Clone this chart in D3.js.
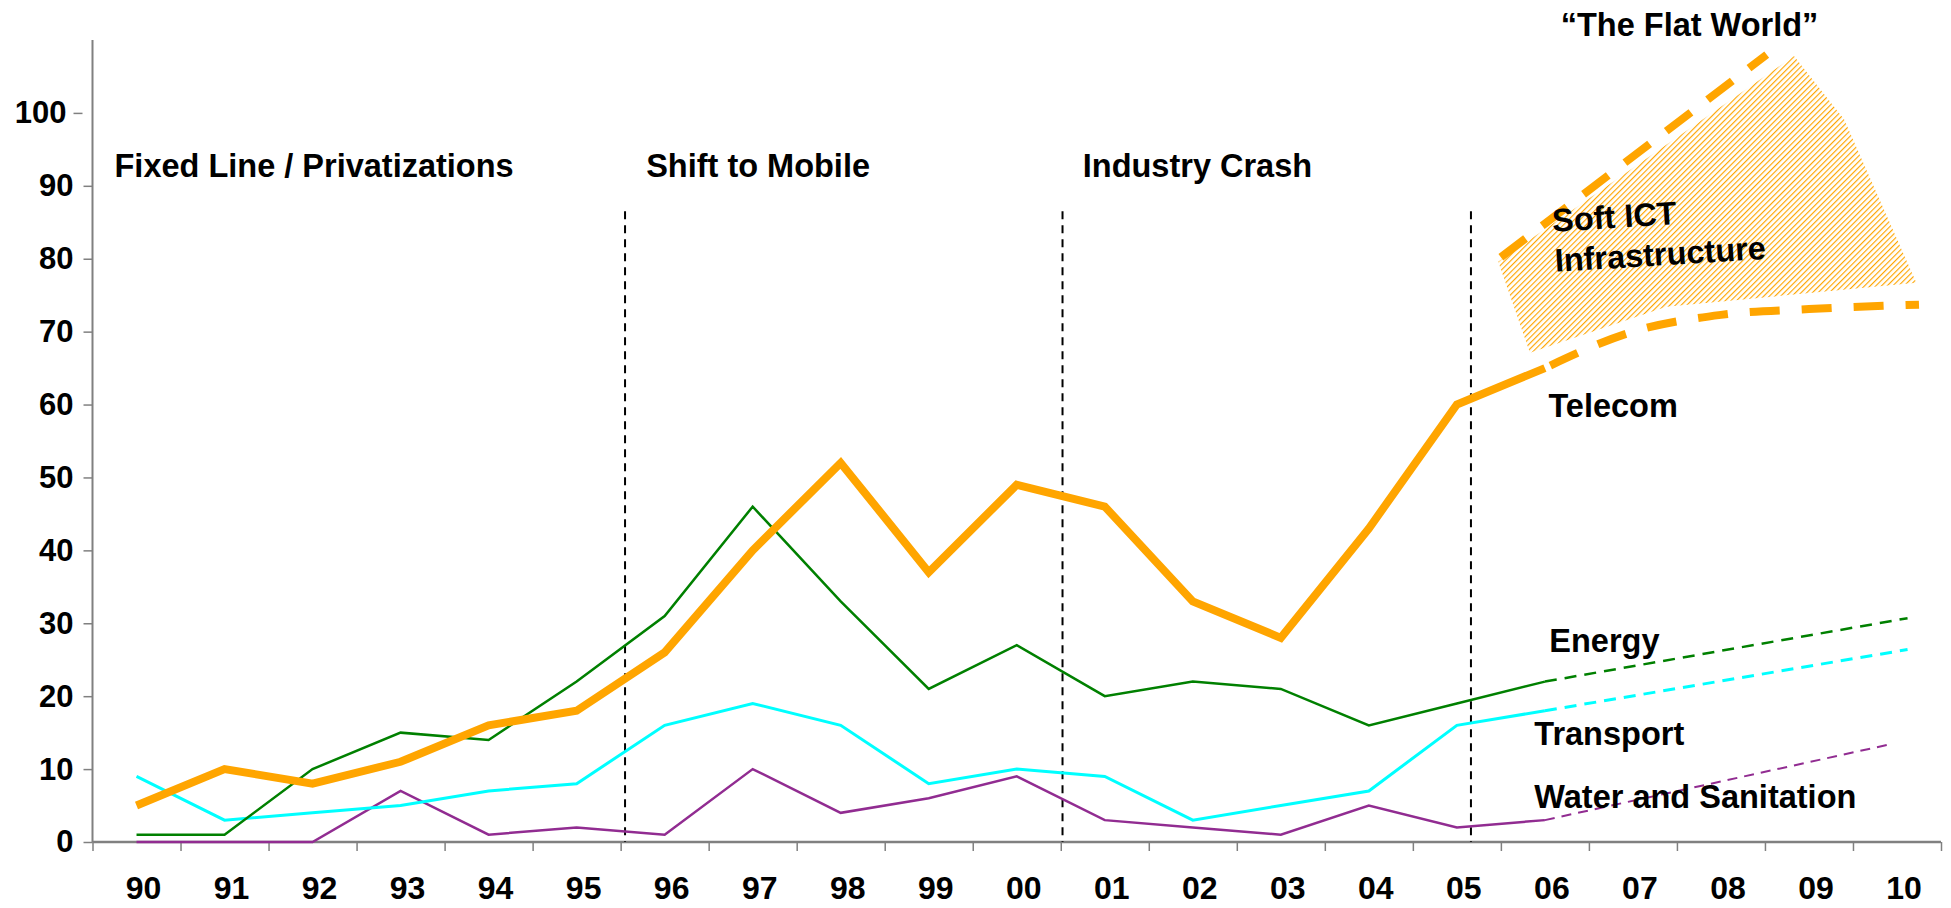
<!DOCTYPE html>
<html>
<head>
<meta charset="utf-8">
<script src="https://cdn.jsdelivr.net/npm/d3@7"></script>
<style>
  body { margin: 0; background: #fff; }
  svg text { font-family: "Liberation Sans", Arial, sans-serif; font-weight: bold; fill: #000; }
</style>
</head>
<body>
<svg id="chart" width="1951" height="908"></svg>
<script>
// categories (years, two digits) and series values
const categories = ["90","91","92","93","94","95","96","97","98","99","00","01","02","03","04","05","06","07","08","09","10"];
const yTicks = [0, 10, 20, 30, 40, 50, 60, 70, 80, 90, 100];

// actuals 1990..2006
const telecom   = [5, 10, 8, 11, 16, 18, 26, 40, 52, 37, 49, 46, 33, 28, 43, 60, 65];
const energy    = [1, 1, 10, 15, 14, 22, 31, 46, 33, 21, 27, 20, 22, 21, 16, 19, 22];
const transport = [9, 3, 4, 5, 7, 8, 16, 19, 16, 8, 10, 9, 3, 5, 7, 16, 18];
const water     = [0, 0, 0, 7, 1, 2, 1, 10, 4, 6, 9, 3, 2, 1, 5, 2, 3];

// projections [year, value]
const telecomForecast   = [[2006, 65], [2007, 70], [2008, 72.3], [2009, 73.1], [2010.25, 73.7]];
const flatWorld         = [[2005.5, 80.2], [2008.52, 108]];
const energyForecast    = [[2006, 22], [2010.12, 30.7]];
const transportForecast = [[2006, 18], [2010.12, 26.4]];
const waterForecast     = [[2006, 3], [2009.96, 13.5]];
// hatched "Soft ICT" area outline [year, value]
const softIctArea = [[2005.47, 79.6], [2008.83, 107.8], [2009.40, 99.1], [2010.22, 76.7], [2007.38, 73.4], [2005.83, 67.1]];

// period dividers and captions
const eras = [
  {name: "Fixed Line / Privatizations", labelYear: 1989.75, line: null},
  {name: "Shift to Mobile", labelYear: 1995.79, line: 1995.55},
  {name: "Industry Crash", labelYear: 2000.75, line: 2000.52},
  {name: null, labelYear: null, line: 2005.16}
];

const svg = d3.select("#chart");

const x = d3.scaleBand().domain(categories).range([92.5, 1941]).padding(0);
const bw = x.bandwidth();
const yr = d3.scaleLinear().domain([1990, 2010]).range([x("90") + bw / 2, x("10") + bw / 2]);
const y = d3.scaleLinear().domain([0, 110]).range([842, 40]);

// hatch pattern
const defs = svg.append("defs");
defs.append("pattern")
    .attr("id", "hatch")
    .attr("patternUnits", "userSpaceOnUse")
    .attr("width", 4).attr("height", 4)
    .attr("patternTransform", "rotate(45)")
  .append("line")
    .attr("x1", 0).attr("y1", 0).attr("x2", 0).attr("y2", 4)
    .attr("stroke", "#FFA500").attr("stroke-width", 2.3);

// hatched area
svg.append("path")
   .datum(softIctArea)
   .attr("d", d3.line().x(d => yr(d[0])).y(d => y(d[1])).curve(d3.curveLinearClosed))
   .attr("fill", "url(#hatch)");

// y axis
const yAxis = svg.append("g")
   .attr("transform", `translate(${x.range()[0]},0)`)
   .call(d3.axisLeft(y).tickValues(yTicks).tickSize(9).tickPadding(10).tickSizeOuter(0));
yAxis.select(".domain").attr("stroke", "#808080").attr("stroke-width", 2)
     .attr("d", `M0,${y(0)}V${y(110)}`);
yAxis.selectAll(".tick line").attr("stroke", "#808080").attr("stroke-width", 1.5);
yAxis.selectAll(".tick text").style("font-size", "31px").attr("fill", "#000");
// the 100 label sits a bit off the axis in the original
yAxis.selectAll(".tick").filter(d => d === 100).each(function() {
  d3.select(this).select("line").attr("transform", "translate(-10,0)");
  d3.select(this).select("text").attr("dx", "-7");
});

// x axis: boundary ticks and centred labels
const xTicks = svg.append("g")
   .attr("transform", `translate(0,${y(0)})`)
   .call(d3.axisBottom(yr).tickValues(d3.range(1989.5, 2010.6, 1)).tickSize(9).tickFormat(""));
xTicks.select(".domain").attr("stroke", "#808080").attr("stroke-width", 2.5)
      .attr("d", `M${x.range()[0]},0H${x.range()[1]}`);
xTicks.selectAll(".tick line").attr("stroke", "#808080").attr("stroke-width", 1.5);

svg.append("g").selectAll("text")
   .data(categories)
   .join("text")
   .attr("x", d => x(d) + bw / 2 + 7)
   .attr("y", 899)
   .attr("text-anchor", "middle")
   .style("font-size", "32px")
   .text(d => d);

// era dividers
svg.append("g").selectAll("line")
   .data(eras.filter(e => e.line !== null))
   .join("line")
   .attr("x1", d => yr(d.line)).attr("x2", d => yr(d.line))
   .attr("y1", y(86.5)).attr("y2", y(0))
   .attr("stroke", "#000").attr("stroke-width", 2)
   .attr("stroke-dasharray", "8,6");

svg.append("g").selectAll("text")
   .data(eras.filter(e => e.name))
   .join("text")
   .attr("x", d => yr(d.labelYear))
   .attr("y", y(91.2))
   .style("font-size", "32.5px")
   .text(d => d.name);

// series
const line = d3.line().x((d, i) => yr(1990 + i)).y(d => y(d));
const lineXY = d3.line().x(d => yr(d[0])).y(d => y(d[1]));

const series = [
  {values: water, forecast: waterForecast, color: "#912C91", width: 2.5, fwidth: 2, dash: "10,7"},
  {values: transport, forecast: transportForecast, color: "#00FFFF", width: 3, fwidth: 3, dash: "12,8"},
  {values: energy, forecast: energyForecast, color: "#008000", width: 2.5, fwidth: 2.5, dash: "12,8"}
];

series.forEach(s => {
  svg.append("path").datum(s.values)
     .attr("d", line).attr("fill", "none")
     .attr("stroke", s.color).attr("stroke-width", s.width)
     .attr("stroke-linejoin", "miter");
  svg.append("path").datum(s.forecast)
     .attr("d", lineXY).attr("fill", "none")
     .attr("stroke", s.color).attr("stroke-width", s.fwidth)
     .attr("stroke-dasharray", s.dash);
});

// telecom (thick orange)
svg.append("path").datum(telecom)
   .attr("d", line).attr("fill", "none")
   .attr("stroke", "#FFA500").attr("stroke-width", 8)
   .attr("stroke-linejoin", "miter");
svg.append("path").datum(telecomForecast)
   .attr("d", lineXY.curve(d3.curveMonotoneX)).attr("fill", "none")
   .attr("stroke", "#FFA500").attr("stroke-width", 8)
   .attr("stroke-dasharray", "30,22").attr("stroke-dashoffset", -6);
svg.append("path").datum(flatWorld)
   .attr("d", d3.line().x(d => yr(d[0])).y(d => y(d[1]))).attr("fill", "none")
   .attr("stroke", "#FFA500").attr("stroke-width", 8)
   .attr("stroke-dasharray", "31,21");

// series labels
const labels = [
  {text: "Telecom", year: 2006.04, value: 58.3},
  {text: "Energy", year: 2006.05, value: 26.1},
  {text: "Transport", year: 2005.88, value: 13.3},
  {text: "Water and Sanitation", year: 2005.88, value: 4.7}
];
svg.append("g").selectAll("text")
   .data(labels)
   .join("text")
   .attr("x", d => yr(d.year))
   .attr("y", d => y(d.value))
   .style("font-size", "32.5px")
   .text(d => d.text);

// Soft ICT annotation (slightly tilted)
[["Soft ICT", 2006.09, 83.7], ["Infrastructure", 2006.12, 78.2]].forEach(t => {
  svg.append("text")
     .attr("transform", `translate(${yr(t[1])},${y(t[2])}) rotate(-3.5)`)
     .style("font-size", "32.5px")
     .text(t[0]);
});

svg.append("text")
   .attr("x", yr(2006.18))
   .attr("y", 36)
   .style("font-size", "32.5px")
   .text("\u201CThe Flat World\u201D");
</script>
</body>
</html>
